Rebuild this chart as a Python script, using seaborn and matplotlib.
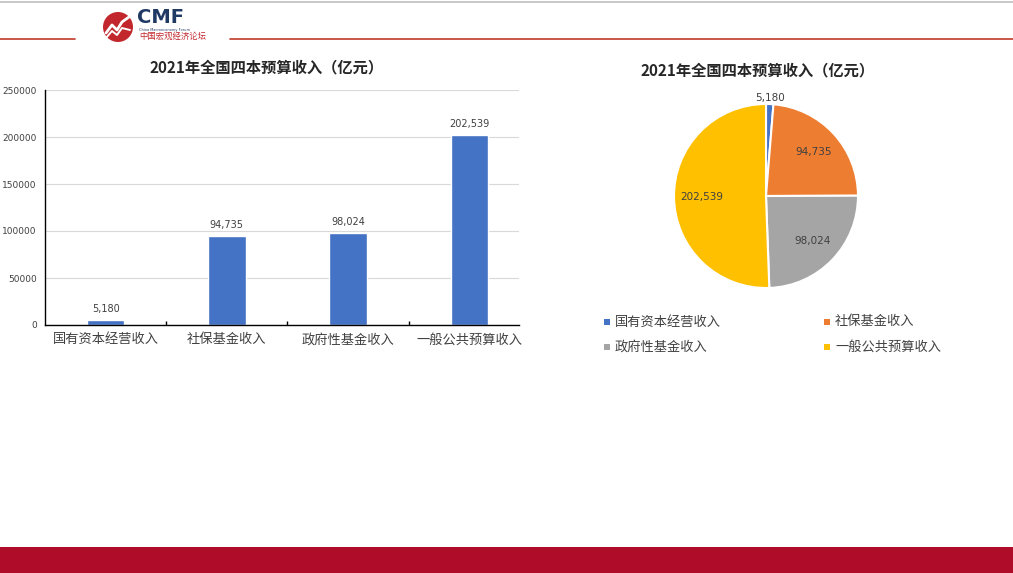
import numpy as np
import pandas as pd
import matplotlib
matplotlib.use("Agg")
import matplotlib.pyplot as plt
import seaborn as sns
from matplotlib.patches import Rectangle, Circle

# ===================== 数据 =====================
categories = ["国有资本经营收入", "社保基金收入", "政府性基金收入", "一般公共预算收入"]
values = [5180, 94735, 98024, 202539]
value_labels = ["5,180", "94,735", "98,024", "202,539"]
y_ticks = [0, 50000, 100000, 150000, 200000, 250000]
title = "2021年全国四本预算收入（亿元）"
pie_colors = ["#4472C4", "#ED7D31", "#A5A5A5", "#FFC000"]

sns.set_theme(style="white")
plt.rcParams['font.family'] = ['Noto Sans CJK SC', 'DejaVu Sans']

W, H = 1013, 573
fig = plt.figure(figsize=(W / 100, H / 100), dpi=100)


def px_axes(x0, y0, x1, y1, **kw):
    """按像素坐标（左上原点）添加坐标轴"""
    return fig.add_axes([x0 / W, (H - y1) / H, (x1 - x0) / W, (y1 - y0) / H], **kw)


# ===================== 页眉 / 页脚 =====================
bg = fig.add_axes([0, 0, 1, 1])
bg.set_xlim(0, W)
bg.set_ylim(H, 0)
bg.axis("off")
bg.plot([0, W], [1.5, 1.5], color="#BFBFBF", lw=1.2)
bg.plot([0, 75], [38.5, 38.5], color="#C0392B", lw=1.2)
bg.plot([230, W], [38.5, 38.5], color="#C0392B", lw=1.2)
bg.add_patch(Rectangle((0, 547), W, 26, color="#AE0C28", lw=0))
# logo
bg.add_patch(Circle((118, 27), 15, color="#C1272D", lw=0))
bg.plot([106, 112, 117, 122, 129], [33, 25, 30, 22, 17], color="white", lw=2.0)
bg.plot([106, 112, 117, 122, 130], [38, 31, 35, 28, 30], color="white", lw=1.4)
bg.text(137, 27, "CMF", fontsize=14, fontweight="bold", color="#1F3864",
        ha="left", va="bottom", family="DejaVu Sans")
bg.text(139, 29.5, "China Macroeconomy Forum", fontsize=2.5, color="#1F3864",
        ha="left", va="center", family="DejaVu Sans")
bg.text(139, 36.5, "中国宏观经济论坛", fontsize=6, color="#C1272D",
        ha="left", va="center")

# ===================== 柱状图 =====================
df = pd.DataFrame({"类别": categories, "收入": values})
ax = px_axes(45, 90, 519, 325)
sns.barplot(data=df, x="类别", y="收入", color="#4472C4", width=0.31,
            saturation=1, ax=ax)
ax.set_ylim(0, 250000)
ax.set_xlim(-0.5, 3.41)
ax.set_yticks(y_ticks)
ax.set_yticklabels([str(t) for t in y_ticks], fontsize=6.5, color="#404040",
                   family="DejaVu Sans")
ax.set_xticks([0.5, 1.5, 2.5], minor=True)
ax.tick_params(axis="x", which="major", labelsize=9.5, colors="#404040",
               length=0, pad=6)
ax.tick_params(axis="x", which="minor", bottom=True, direction="in",
               length=3, color="#000000")
ax.tick_params(axis="y", length=0, pad=6)
ax.set_xlabel("")
ax.set_ylabel("")
ax.yaxis.grid(True, color="#D9D9D9", lw=0.8)
ax.set_axisbelow(True)
for s in ["top", "right"]:
    ax.spines[s].set_visible(False)
ax.spines["left"].set_color("#000000")
ax.spines["bottom"].set_color("#000000")
ax.spines["left"].set_linewidth(1.0)
ax.spines["bottom"].set_linewidth(1.0)
for i, (v, lab) in enumerate(zip(values, value_labels)):
    ax.text(i, v + 6000, lab, ha="center", va="bottom", fontsize=7,
            color="#404040", family="DejaVu Sans")
fig.text(267 / W, 1 - 67 / H, title, ha="center", va="center",
         fontsize=11, fontweight="bold", color="#262626")

# ===================== 饼图 =====================
pax = px_axes(674, 104, 858, 288)
wedges, _ = pax.pie(values, colors=pie_colors, startangle=90, counterclock=False,
                    wedgeprops=dict(edgecolor="white", linewidth=1.5))
pax.set_xlim(-1, 1)
pax.set_ylim(-1, 1)
pax.set_aspect("equal")
for w, lab, v in zip(wedges, value_labels, values):
    ang = np.deg2rad((w.theta1 + w.theta2) / 2)
    r = 1.07 if v < 20000 else 0.7
    pax.text(r * np.cos(ang), r * np.sin(ang), lab, ha="center", va="center",
             fontsize=7.5, color="#404040", family="DejaVu Sans")
fig.text(758 / W, 1 - 70 / H, title, ha="center", va="center",
         fontsize=11, fontweight="bold", color="#262626")

# 图例
leg_pos = [(607, 322), (827, 322), (607, 347), (827, 347)]
for (lx, ly), c, cat in zip(leg_pos, pie_colors, categories):
    bg.add_patch(Rectangle((lx - 3, ly - 3), 6, 6, color=c, lw=0))
    bg.text(lx + 8, ly, cat, fontsize=9.5, color="#404040", ha="left", va="center")

fig.savefig("out.png", dpi=100)
